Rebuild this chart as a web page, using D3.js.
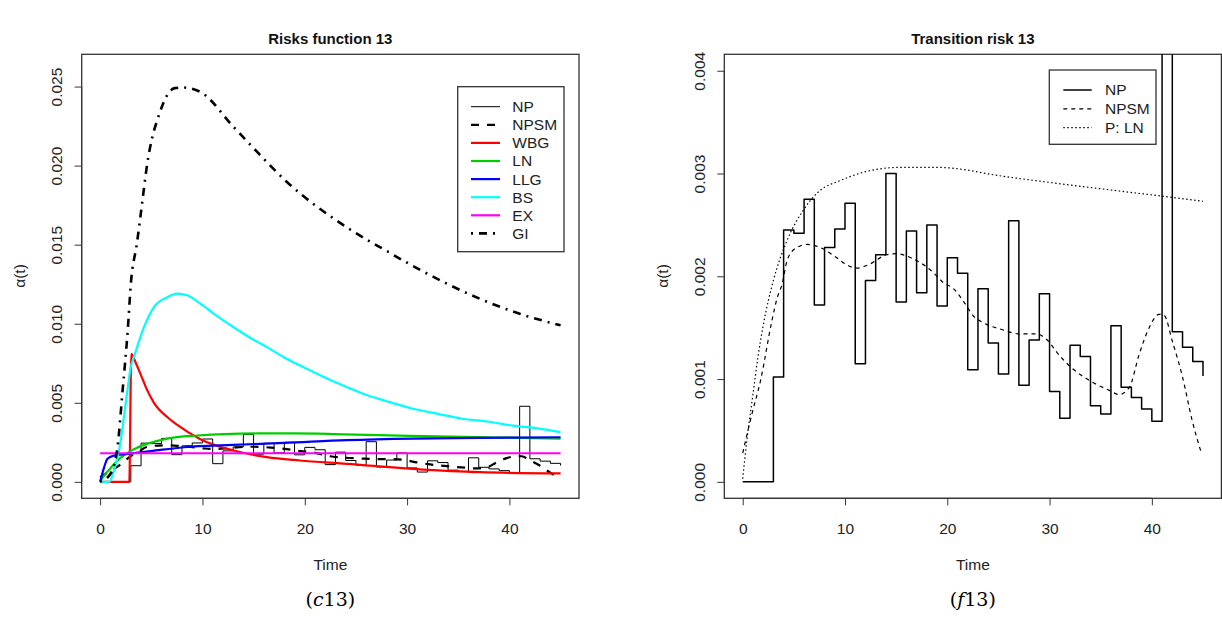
<!DOCTYPE html>
<html><head><meta charset="utf-8">
<script src="https://cdn.jsdelivr.net/npm/d3@7"></script>
<style>body{margin:0;background:#fff}svg{display:block}</style>
</head><body>
<svg id="c" width="1222" height="633"></svg>
<script>
// ---------- DATA ----------
const xTicks = [0, 10, 20, 30, 40];
const yTicksLeft = [0, 0.005, 0.010, 0.015, 0.020, 0.025];
const yTicksRight = [0, 0.001, 0.002, 0.003, 0.004];
const legendLeft = ["NP", "NPSM", "WBG", "LN", "LLG", "BS", "EX", "GI"];
const legendRight = ["NP", "NPSM", "P: LN"];

// NP: nonparametric step estimate (value on [t, t+1))
const npTime = [0,1,2,3,4,5,6,7,8,9,10,11,12,13,14,15,16,17,18,19,20,21,22,23,24,25,26,27,28,29,30,31,32,33,34,35,36,37,38,39,40,41,42,43,44,45];
const npValue = [0,0,0,0.00102,0.00245,0.00242,0.00275,0.00172,0.00228,0.00246,0.00271,0.00115,0.00196,0.00221,0.00300,0.00175,0.00244,0.00184,0.00250,0.00171,0.00218,0.00203,0.00109,0.00188,0.00135,0.00105,0.00254,0.00094,0.00138,0.00183,0.00088,0.00062,0.00133,0.00122,0.00074,0.00066,0.00152,0.00092,0.00082,0.00071,0.00059,0.00478,0.00146,0.00131,0.00117,0.00103];

// NPSM: smoothed nonparametric
const npsmTime = [0,0.9,1.73,2.86,3.4,3.84,4.33,4.8,5.3,6.28,7.57,9.2,10.2,11.15,12.45,14.07,15.05,16.67,18.6,19.6,20.6,21.9,22.5,23.5,25.4,27.07,28.7,29.67,30.96,32.26,34.2,35.84,36.8,37.8,38.76,39.74,40.7,41.2,42.0,43.0,43.96,44.78];
const npsmValue = [0.00028,0.00066,0.00098,0.00157,0.00180,0.00192,0.00215,0.00224,0.00228,0.00231,0.00228,0.00218,0.00211,0.00208,0.00212,0.00221,0.00222,0.00217,0.00204,0.00194,0.00188,0.00171,0.00162,0.00155,0.00148,0.00144,0.00144,0.00139,0.00123,0.00110,0.00097,0.00089,0.00085,0.00092,0.00124,0.00150,0.00163,0.00162,0.00137,0.00102,0.00059,0.00030];

// WBG
const wbgTime = [0,2.85,3.05,3.5,3.96,4.6,5.26,6.56,7.54,9.8,13.05,16.3,19.5,24.1,30.6,37.1,45];
const wbgValue = [0,0,0.0081,0.0075,0.0068,0.0058,0.0050,0.0041,0.0036,0.0027,0.00198,0.00156,0.00135,0.00114,0.00082,0.00061,0.00054];

// LN (also "P: LN" in the right panel)
const lnTime = [0,0.4,1.0,1.5,2.0,3.0,4.3,5.9,7.5,9.5,12.1,15.4,18.9,22.2,23.8,30.3,36.8,41.0,45.0];
const lnValue = [0.00003,0.0004,0.00085,0.00122,0.00152,0.00196,0.00234,0.00264,0.00283,0.00293,0.00302,0.00306,0.00306,0.00303,0.00300,0.00291,0.00283,0.00278,0.00273];

// LLG
const llgTime = [0,0.39,0.72,1.36,2.67,4.94,8.18,13.0,18.0,24.1,30.6,37.1,45];
const llgValue = [0,0.00092,0.00146,0.00166,0.00177,0.00194,0.00219,0.00234,0.00246,0.00264,0.00274,0.00278,0.00282];

// BS
const bsTime = [0,0.9,1.3,1.85,2.67,2.99,3.31,4.28,5.26,6.56,7.54,8.5,9.8,11.4,13.05,14.7,16.3,17.9,19.54,23.0,25.7,28.0,30.6,33.0,35.4,38.0,40.3,42.6,45];
const bsValue = [0,0,0.0006,0.00198,0.00578,0.00725,0.00790,0.00978,0.01105,0.01168,0.0119,0.0118,0.01127,0.0105,0.00978,0.0091,0.00852,0.0079,0.00736,0.0063,0.00557,0.0051,0.00462,0.0043,0.00399,0.0038,0.00356,0.0034,0.00314];

// EX
const exTime = [0,45];
const exValue = [0.00181,0.00181];

// GI
const giTime = [0,1.0,1.7,2.2,2.7,3.0,3.6,4.1,4.6,5.1,5.6,6.5,7.3,8.0,8.7,9.8,13.05,15.0,18.2,24.1,28,31,34,37.1,41,45];
const giValue = [0,0.0005,0.0022,0.0058,0.0096,0.0125,0.0151,0.0176,0.0201,0.0218,0.0229,0.0244,0.0249,0.02494,0.0249,0.02466,0.02244,0.0211,0.0190,0.0161,0.0146,0.0135,0.0125,0.01158,0.01063,0.0099];

// ---------- DRAW ----------
const svg = d3.select("#c");
const FONT = "'Liberation Sans', Arial, sans-serif";
const AX = "#333";
const zip = (t, v) => t.map((d, i) => [d, v[i]]);

function panel(opt) {
  const x = d3.scaleLinear().domain([-1.8, 46.8]).range([opt.left, opt.right]);
  const y = d3.scaleLinear().domain(opt.ydom).range([498.3, 54.3]);
  const g = svg.append("g");
  const clipId = "clip" + opt.id;
  svg.append("clipPath").attr("id", clipId).append("rect")
    .attr("x", opt.left).attr("y", 54.3).attr("width", opt.right - opt.left).attr("height", 444);

  const xa = g.append("g").attr("transform", `translate(0,498.3)`)
    .call(d3.axisBottom(x).tickValues(xTicks).tickSize(7).tickPadding(0).tickFormat(d3.format("d")));
  xa.select(".domain").attr("d", `M${x(xTicks[0])},0H${x(xTicks[xTicks.length-1])}`).attr("stroke", AX);
  xa.selectAll(".tick line").attr("stroke", AX);
  xa.selectAll(".tick text").attr("y", 30).attr("dy", "0.35em")
    .style("font-family", FONT).style("font-size", "15.5px").attr("fill", "#222");

  const ya = g.append("g").attr("transform", `translate(${opt.left},0)`)
    .call(d3.axisLeft(y).tickValues(opt.yticks).tickSize(7).tickFormat(opt.yfmt));
  ya.select(".domain").attr("d", `M0,${y(opt.yticks[0])}V${y(opt.yticks[opt.yticks.length-1])}`).attr("stroke", AX);
  ya.selectAll(".tick line").attr("stroke", AX);
  ya.selectAll(".tick text").attr("x", 0).attr("dy", "0.35em")
    .attr("text-anchor", "middle")
    .attr("transform", "translate(-24.7,0) rotate(-90)")
    .style("font-family", FONT).style("font-size", "15.5px").attr("fill", "#222");

  g.append("rect").attr("x", opt.left).attr("y", 54.3).attr("width", opt.right - opt.left).attr("height", 444)
    .attr("fill", "none").attr("stroke", AX).attr("stroke-width", 1.3);

  const cx = (opt.left + opt.right) / 2;
  g.append("text").attr("x", cx).attr("y", 39).attr("dy", "0.35em").attr("text-anchor", "middle")
    .style("font-family", FONT).style("font-size", "15px").style("font-weight", "bold").attr("fill", "#111").text(opt.title);
  g.append("text").attr("x", cx).attr("y", 565).attr("dy", "0.35em").attr("text-anchor", "middle")
    .style("font-family", FONT).style("font-size", "15.5px").attr("fill", "#222").text("Time");
  g.append("text").attr("transform", `translate(${opt.left - 62},276) rotate(-90)`).attr("dy", "0.35em").attr("text-anchor", "middle")
    .style("font-family", FONT).style("font-size", "15.5px").attr("fill", "#222").text("\u03b1(t)");

  const cap = g.append("text").attr("x", cx).attr("y", 599).attr("dy", "0.35em").attr("text-anchor", "middle")
    .style("font-family", "'DejaVu Serif', 'Liberation Serif', serif").style("font-size", "19px").attr("fill", "#000");
  cap.append("tspan").text("(");
  cap.append("tspan").style("font-style", "italic").text(opt.capLetter);
  cap.append("tspan").text("13)");

  const plot = g.append("g").attr("clip-path", `url(#${clipId})`);
  return {x, y, plot, g};
}

function drawLine(p, data, style, curve) {
  const line = d3.line().x(d => p.x(d[0])).y(d => p.y(d[1])).curve(curve || d3.curveMonotoneX);
  p.plot.append("path").datum(data).attr("d", line).attr("fill", "none")
    .attr("stroke", style.color).attr("stroke-width", style.w)
    .attr("stroke-dasharray", style.dash || null).attr("stroke-linejoin", "round");
}

// ---- Left panel ----
const L = panel({id: "L", left: 81.7, right: 579, ydom: [-0.00104, 0.02704], yticks: yTicksLeft,
  yfmt: d3.format(".3f"), title: "Risks function 13", capLetter: "c"});
const leftStyles = {
  NP: {color: "#000", w: 1},
  NPSM: {color: "#000", w: 2.2, dash: "8,8"},
  WBG: {color: "#FF0000", w: 2.2},
  LN: {color: "#00CD00", w: 2.2},
  LLG: {color: "#0000FF", w: 2.2},
  BS: {color: "#00FFFF", w: 2.2},
  EX: {color: "#FF00FF", w: 2.2},
  GI: {color: "#000", w: 2.6, dash: "2,6,8,6"}
};
drawLine(L, zip(npTime, npValue), leftStyles.NP, d3.curveStepAfter);
drawLine(L, zip(npsmTime, npsmValue), leftStyles.NPSM);
drawLine(L, zip(wbgTime, wbgValue), leftStyles.WBG);
drawLine(L, zip(lnTime, lnValue), leftStyles.LN);
drawLine(L, zip(llgTime, llgValue), leftStyles.LLG);
drawLine(L, zip(bsTime, bsValue), leftStyles.BS);
drawLine(L, zip(exTime, exValue), leftStyles.EX);
drawLine(L, zip(giTime, giValue), leftStyles.GI);

(function(){
  const lg = L.g.append("g");
  lg.append("rect").attr("x", 457.7).attr("y", 86.7).attr("width", 106.3).attr("height", 165)
    .attr("fill", "#fff").attr("stroke", AX).attr("stroke-width", 1.3);
  legendLeft.forEach((name, i) => {
    const yy = 106.7 + i * 18.1;
    const s = leftStyles[name];
    lg.append("line").attr("x1", 471).attr("x2", 500).attr("y1", yy).attr("y2", yy)
      .attr("stroke", s.color).attr("stroke-width", s.w).attr("stroke-dasharray", s.dash || null);
    lg.append("text").attr("x", 512.3).attr("y", yy).attr("dy", "0.35em")
      .style("font-family", FONT).style("font-size", "15.5px").attr("fill", "#222").text(name);
  });
})();

// ---- Right panel ----
const R = panel({id: "R", left: 724.3, right: 1221.4, ydom: [-0.00016, 0.00416], yticks: yTicksRight,
  yfmt: d3.format(".3f"), title: "Transition risk 13", capLetter: "f"});
const rightStyles = [
  {color: "#000", w: 1.5},
  {color: "#000", w: 1.2, dash: "4,4"},
  {color: "#000", w: 1.2, dash: "1.5,2.5"}
];
drawLine(R, zip(npTime, npValue), rightStyles[0], d3.curveStepAfter);
drawLine(R, zip(npsmTime, npsmValue), rightStyles[1]);
drawLine(R, zip(lnTime, lnValue), rightStyles[2]);

(function(){
  const lg = R.g.append("g");
  lg.append("rect").attr("x", 1049.3).attr("y", 70).attr("width", 106.7).attr("height", 74.3)
    .attr("fill", "#fff").attr("stroke", AX).attr("stroke-width", 1.3);
  legendRight.forEach((name, i) => {
    const yy = 90 + i * 18.8;
    const s = rightStyles[i];
    lg.append("line").attr("x1", 1063.3).attr("x2", 1091.7).attr("y1", yy).attr("y2", yy)
      .attr("stroke", s.color).attr("stroke-width", s.w).attr("stroke-dasharray", s.dash || null);
    lg.append("text").attr("x", 1105).attr("y", yy).attr("dy", "0.35em")
      .style("font-family", FONT).style("font-size", "15.5px").attr("fill", "#222").text(name);
  });
})();
</script>
</body></html>
